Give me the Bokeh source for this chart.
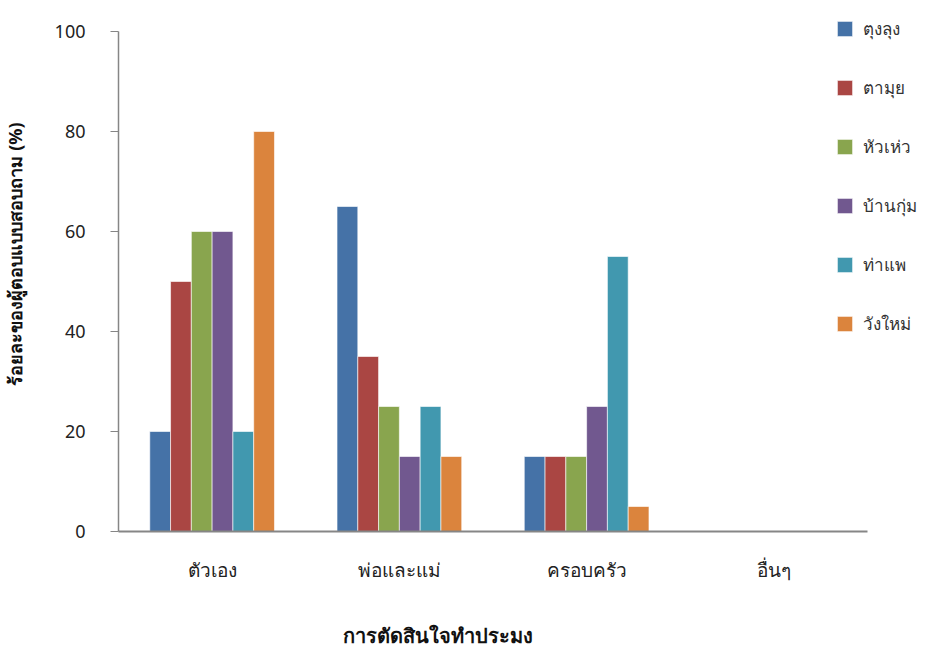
from bokeh.plotting import figure
from bokeh.models import ColumnDataSource, Legend, LegendItem, Title, FixedTicker
from bokeh.embed import file_html
from bokeh.resources import INLINE

categories = ["ตัวเอง", "พ่อและแม่", "ครอบครัว", "อื่นๆ"]
series_names = ["ตุงลุง", "ตามุย", "หัวเห่ว", "บ้านกุ่ม", "ท่าแพ", "วังใหม่"]
tunglung = [20, 65, 15, 0]
tamui = [50, 35, 15, 0]
huahew = [60, 25, 15, 0]
bankum = [60, 15, 25, 0]
thapae = [20, 25, 55, 0]
wangmai = [80, 15, 5, 0]
y_ticks = [0, 20, 40, 60, 80, 100]
x_title = "การตัดสินใจทำประมง"
y_title = "ร้อยละของผู้ตอบแบบสอบถาม (%)"

series = [tunglung, tamui, huahew, bankum, thapae, wangmai]
colors = ["#4572A7", "#AA4643", "#89A54E", "#71588F", "#4198AF", "#DB843D"]
FONT = "Noto Sans"

n = len(categories)
centers = [i + 0.5 for i in range(n)]
bw = 0.111

p = figure(width=930, height=648, x_range=(0, 4.3365), y_range=(0, 106.2),
           output_backend="svg", toolbar_location=None,
           min_border_left=118, min_border_right=0, min_border_top=0, min_border_bottom=117)
p.outline_line_color = None
p.grid.grid_line_color = None

renderers = []
for i, vals in enumerate(series):
    xs = [c + (-2.5 + i) * bw for c in centers]
    src = ColumnDataSource(dict(x=xs, top=vals))
    r = p.vbar(x="x", top="top", width=bw, source=src,
               fill_color=colors[i], line_color="white", line_alpha=0.6, line_width=1)
    renderers.append(r)

legend = Legend(items=[LegendItem(label=series_names[i], renderers=[renderers[i]]) for i in range(6)],
                location=(717, 194), orientation="vertical",
                glyph_width=19, glyph_height=19, spacing=32, label_standoff=9,
                label_text_font=FONT, label_text_font_size="17px", label_text_color="#333333",
                border_line_color=None, background_fill_alpha=0, padding=0, margin=0,
                label_height=19)
p.add_layout(legend)

ya = p.yaxis[0]
ya.ticker = FixedTicker(ticks=y_ticks)
ya.bounds = (0, 100)
ya.axis_line_color = "#868686"
ya.axis_line_width = 1.5
ya.major_tick_line_color = "#868686"
ya.major_tick_out = 8
ya.major_tick_in = 0
ya.minor_tick_line_color = None
ya.major_label_standoff = 25
ya.major_label_text_font = FONT
ya.major_label_text_font_size = "18px"
ya.major_label_text_color = "#222222"

xa = p.xaxis[0]
xa.ticker = FixedTicker(ticks=centers)
xa.major_label_overrides = {c: lab for c, lab in zip(centers, categories)}
xa.bounds = (0, 4)
xa.axis_line_color = "#868686"
xa.axis_line_width = 2
xa.major_tick_line_color = None
xa.minor_tick_line_color = None
xa.major_label_standoff = 19
xa.major_label_text_font = FONT
xa.major_label_text_font_size = "19px"
xa.major_label_text_color = "#222222"

# spacers between axes and titles
p.add_layout(Title(text=" ", standoff=31, text_font_size="1px"), "below")
p.add_layout(Title(text=x_title, align="left", offset=224, standoff=0,
                   text_font=FONT, text_font_size="20px", text_font_style="bold",
                   text_color="#111111"), "below")
p.add_layout(Title(text=" ", standoff=22, text_font_size="1px"), "left")
p.add_layout(Title(text=y_title, align="left", offset=146, standoff=0,
                   text_font=FONT, text_font_size="18px", text_font_style="bold",
                   text_color="#111111"), "left")

open("out.html", "w").write(file_html(p, INLINE))
